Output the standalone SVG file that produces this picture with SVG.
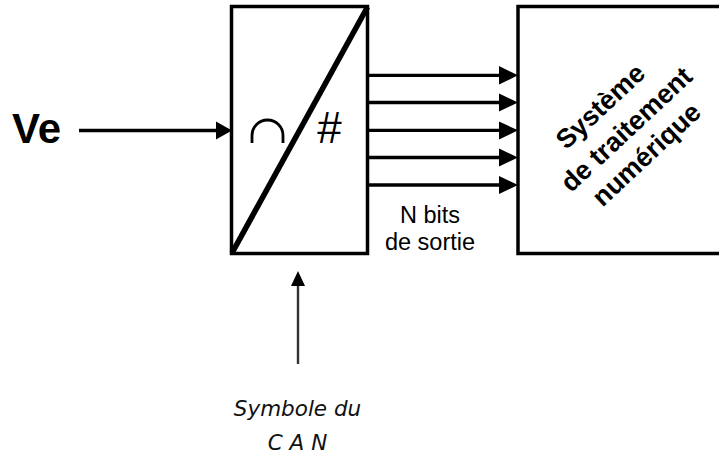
<svg xmlns="http://www.w3.org/2000/svg" width="719" height="457" viewBox="0 0 719 457">
<style>
.box{fill:#fff;stroke:#000;stroke-width:3.500}
.wire{fill:none;stroke:#000;stroke-width:3.300}
.thin{fill:none;stroke:#333;stroke-width:2.400}
.head{fill:#000}
text{font-family:"Liberation Sans",Arial,sans-serif;fill:#000}
.ital{font-family:"DejaVu Sans",sans-serif;font-style:italic;font-size:21.500px;fill:#111}
</style>
<rect width="719" height="457" fill="#fff"/>
<g id="can">
<rect class="box" x="231.500" y="6.500" width="136" height="247"/>
<line x1="232" y1="253" x2="367.500" y2="7" stroke="#000" stroke-width="5.600"/>
<path d="M252 143V135.500a15.500 15.500 0 0 1 31 0V143" fill="none" stroke="#000" stroke-width="2.800"/>
<text x="329.500" y="143" font-size="44" text-anchor="middle">#</text>
</g>
<g id="systeme">
<path class="box" d="M719 6.500H518V253.500H719"/>
<g font-size="26.800" font-weight="700" text-anchor="middle">
<text transform="translate(606.500 113) rotate(-43)">Système</text>
<text transform="translate(632.500 136) rotate(-43)">de traitement</text>
<text transform="translate(652.500 161) rotate(-43)">numérique</text>
</g>
</g>
<g id="connecteurs">
<line class="wire" x1="79" y1="130.500" x2="220" y2="130.500"/><path class="head" d="M216 121.500L232 130.500L216 139.500Z"/>
<line class="wire" x1="369" y1="75.300" x2="504" y2="75.300"/><path class="head" d="M499 66L518 75.300L499 84.500Z"/>
<line class="wire" x1="369" y1="102.500" x2="504" y2="102.500"/><path class="head" d="M499 93.500L518 102.500L499 111.500Z"/>
<line class="wire" x1="369" y1="130.300" x2="504" y2="130.300"/><path class="head" d="M499 121.500L518 130.300L499 139.500Z"/>
<line class="wire" x1="369" y1="157.500" x2="504" y2="157.500"/><path class="head" d="M499 148.500L518 157.500L499 166.500Z"/>
<line class="wire" x1="369" y1="185" x2="504" y2="185"/><path class="head" d="M499 176L518 185L499 194Z"/>
<line class="thin" x1="298" y1="364" x2="298" y2="282"/><path class="head" d="M298 271L305 286H291Z"/>
</g>
<g id="ve"><text x="12" y="143" font-size="42" font-weight="700">Ve</text></g>
<g id="nbits" font-size="23.500" text-anchor="middle">
<text x="430" y="223">N bits</text>
<text x="430" y="250">de sortie</text>
</g>
<g id="symbole" text-anchor="middle">
<text class="ital" x="297.500" y="416">Symbole du</text>
<text class="ital" x="297.500" y="450">C A N</text>
</g>
</svg>
